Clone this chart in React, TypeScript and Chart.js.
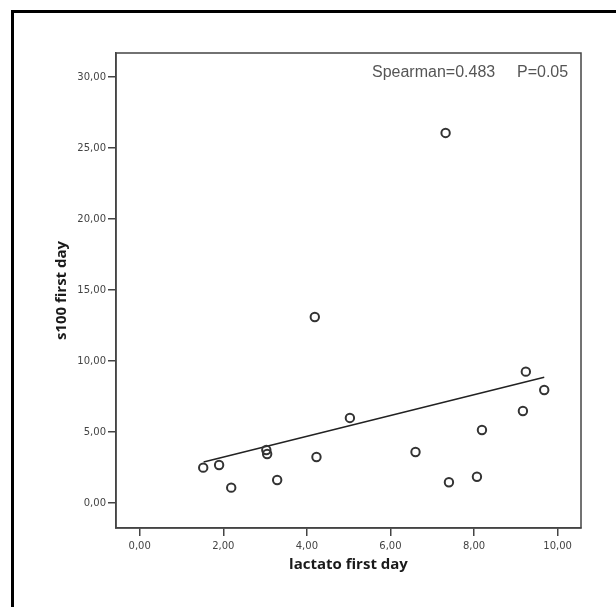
import React, { useEffect, useRef } from "react";
import { Chart, registerables } from "chart.js";

Chart.register(...registerables);

// Data
const lactato: number[] = [1.52, 1.9, 2.19, 3.03, 3.05, 3.29, 4.23, 4.19, 5.03, 6.6, 7.32, 7.4, 8.07, 8.19, 9.17, 9.24, 9.68];
const s100: number[] = [2.49, 2.68, 1.08, 3.73, 3.45, 1.62, 3.24, 13.1, 5.99, 3.59, 26.06, 1.46, 1.85, 5.14, 6.48, 9.25, 7.96];

// Fit line end points
const fitX: number[] = [1.53, 9.68];
const fitY: number[] = [2.89, 8.85];

const xTicks: number[] = [0, 2, 4, 6, 8, 10];
const xTickLabels: string[] = ["0,00", "2,00", "4,00", "6,00", "8,00", "10,00"];
const yTicks: number[] = [0, 5, 10, 15, 20, 25, 30];
const yTickLabels: string[] = ["0,00", "5,00", "10,00", "15,00", "20,00", "25,00", "30,00"];

const xTitle = "lactato first day";
const yTitle = "s100 first day";
const spearmanText = "Spearman=0.483";
const pText = "P=0.05";

const framePlugin = {
  id: "frameAndNote",
  beforeDraw(chart: any) {
    const { ctx, width, height } = chart;
    ctx.save();
    ctx.fillStyle = "#ffffff";
    ctx.fillRect(0, 0, width, height);
    ctx.fillStyle = "#000000";
    ctx.fillRect(11, 10, width - 11, 3);
    ctx.fillRect(11, 10, 3, height - 10);
    ctx.restore();
  },
  afterDraw(chart: any) {
    const { ctx, chartArea } = chart;
    ctx.save();
    ctx.strokeStyle = "#444444";
    ctx.lineWidth = 1.5;
    ctx.strokeRect(chartArea.left, chartArea.top, chartArea.right - chartArea.left, chartArea.bottom - chartArea.top);
    ctx.font = '16px "Liberation Sans", Arial, sans-serif';
    ctx.fillStyle = "#555555";
    ctx.textAlign = "left";
    ctx.textBaseline = "alphabetic";
    ctx.fillText(spearmanText, chartArea.right - 209, chartArea.top + 23.5);
    ctx.fillText(pText, chartArea.right - 64, chartArea.top + 23.5);
    ctx.restore();
  },
};

export default function App() {
  const ref = useRef<HTMLCanvasElement | null>(null);

  useEffect(() => {
    document.body.style.margin = "0";
    const canvas = ref.current;
    if (!canvas) return;
    const tickFont = { family: '"DejaVu Sans", sans-serif', size: 10 };
    const titleFont = { family: '"Open Sans", sans-serif', size: 15, weight: "bold" as const, lineHeight: 1.2 };

    const chart = new Chart(canvas, {
      type: "scatter",
      data: {
        datasets: [
          {
            type: "scatter",
            label: "points",
            data: lactato.map((x, i) => ({ x, y: s100[i] })),
            pointRadius: 4.2,
            pointBorderWidth: 2,
            pointBorderColor: "#333333",
            pointBackgroundColor: "rgba(255,255,255,0)",
            pointStyle: "circle",
          },
          {
            type: "line",
            label: "fit",
            data: fitX.map((x, i) => ({ x, y: fitY[i] })),
            borderColor: "#222222",
            borderWidth: 1.5,
            pointRadius: 0,
            fill: false,
            showLine: true,
          } as any,
        ],
      },
      options: {
        responsive: false,
        animation: false,
        events: [],
        layout: { padding: { left: 0, top: 53, right: 35, bottom: 0 } },
        plugins: {
          legend: { display: false },
          tooltip: { enabled: false },
          title: { display: false },
        },
        scales: {
          x: {
            type: "linear",
            min: -0.567,
            max: 10.56,
            afterBuildTicks: (scale: any) => {
              scale.ticks = xTicks.map((value) => ({ value }));
            },
            afterFit: (scale: any) => {
              scale.height = 79;
            },
            grid: {
              display: true,
              drawOnChartArea: false,
              drawTicks: true,
              tickLength: 8,
              color: "#444444",
              lineWidth: 1.5,
            },
            border: { display: true, color: "#444444", width: 1.5 },
            ticks: {
              font: tickFont,
              color: "#444444",
              padding: 4,
              maxRotation: 0,
              autoSkip: false,
              callback: (_v: any, i: number) => xTickLabels[i],
            },
            title: {
              display: true,
              text: xTitle,
              font: titleFont,
              color: "#1a1a1a",
              padding: { top: 0, bottom: 33 },
            },
          },
          y: {
            type: "linear",
            min: -1.76,
            max: 31.69,
            afterBuildTicks: (scale: any) => {
              scale.ticks = yTicks.map((value) => ({ value }));
            },
            afterFit: (scale: any) => {
              scale.width = 116;
            },
            grid: {
              display: true,
              drawOnChartArea: false,
              drawTicks: true,
              tickLength: 8,
              color: "#444444",
              lineWidth: 1.5,
            },
            border: { display: true, color: "#444444", width: 1.5 },
            ticks: {
              font: tickFont,
              color: "#444444",
              padding: 2,
              autoSkip: false,
              callback: (_v: any, i: number) => yTickLabels[i],
            },
            title: {
              display: true,
              text: yTitle,
              font: titleFont,
              color: "#1a1a1a",
              padding: { top: 53, bottom: 0 },
            },
          },
        },
      },
      plugins: [framePlugin],
    });

    return () => {
      chart.destroy();
    };
  }, []);

  return (
    <div style={{ width: 616, height: 607 }}>
      <canvas ref={ref} width={616} height={607} style={{ display: "block", width: 616, height: 607 }} />
    </div>
  );
}
